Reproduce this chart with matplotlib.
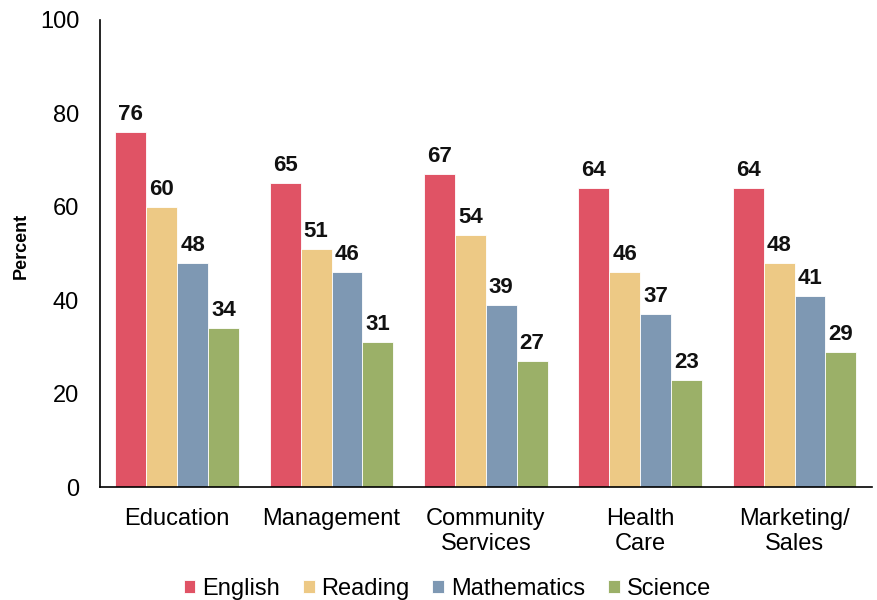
import numpy as np
import matplotlib
matplotlib.use("Agg")
from matplotlib import pyplot as plt

# values
categories = ["Education", "Management", "Community\nServices", "Health\nCare", "Marketing/\nSales"]
series_names = ["English", "Reading", "Mathematics", "Science"]
english = [76, 65, 67, 64, 64]
reading = [60, 51, 54, 46, 48]
mathematics = [48, 46, 39, 37, 41]
science = [34, 31, 27, 23, 29]
colors = ["#E05365", "#EDC985", "#7E98B3", "#9BB068"]

plt.rcParams['font.family'] = ['Liberation Sans', 'DejaVu Sans']

fig = plt.figure(figsize=(8.77, 6.0), dpi=100)
ax = fig.add_axes([0.114, 0.188, 0.88, 0.779])

x = np.arange(len(categories))
width = 0.2
all_series = [english, reading, mathematics, science]
for i, vals in enumerate(all_series):
    pos = x + (i - 1.5) * width
    bars = ax.bar(pos, vals, width, color=colors[i], label=series_names[i],
                  edgecolor="white", linewidth=0.6, zorder=2)
    for b, v in zip(bars, vals):
        ax.text(b.get_x() + b.get_width() / 2, v + 1.5, str(v), ha="center",
                va="bottom", fontsize=16, fontweight="bold", color="#111111")

ax.set_xlim(-0.5, 4.5)
ax.set_ylim(0, 100)
ax.set_yticks([0, 20, 40, 60, 80, 100])
ax.set_xticks(x)
ax.set_xticklabels(categories, fontsize=17, linespacing=1.2)
ax.tick_params(axis="y", labelsize=17, length=0, pad=15)
ax.tick_params(axis="x", length=0, pad=15)
for s in ["top", "right"]:
    ax.spines[s].set_visible(False)
ax.spines["left"].set_linewidth(1.2)
ax.spines["bottom"].set_linewidth(1.2)

fig.text(0.024, 0.59, "Percent", rotation=90, ha="center", va="center",
         fontsize=13, fontweight="bold")

fig.legend(loc="lower center", bbox_to_anchor=(0.51, -0.035), ncol=4, frameon=False,
           fontsize=17, handlelength=0.5, handleheight=0.5, handletextpad=0.3,
           columnspacing=0.95)

fig.savefig("out.png", dpi=100)
